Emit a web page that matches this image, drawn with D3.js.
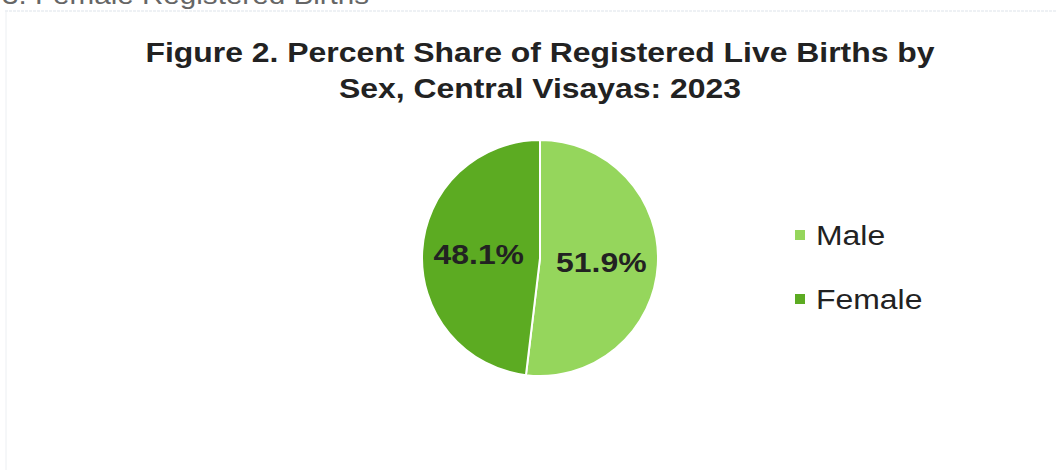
<!DOCTYPE html>
<html>
<head>
<meta charset="utf-8">
<script src="https://cdn.jsdelivr.net/npm/d3@7"></script>
<style>
  html, body { margin: 0; padding: 0; background: #ffffff; }
  svg { display: block; }
</style>
</head>
<body>
<svg id="chart" width="1057" height="470"></svg>
<script>
const categories = ["Male", "Female"];
const shares = [51.9, 48.1];
const labels = ["51.9%", "48.1%"];
const colors = ["#95d65c", "#5cab22"];
const titleLines = ["Figure 2. Percent Share of Registered Live Births by", "Sex, Central Visayas: 2023"];

const svg = d3.select("#chart");
const W = 1057, H = 470;
const font = "'Liberation Sans', Arial, sans-serif";
const SX = 1.14; // horizontal stretch of the text in the reference

// cut-off heading from page above
svg.append("text")
  .attr("transform", `translate(2,4) scale(${SX},1)`)
  .attr("font-family", font).attr("font-size", 26)
  .attr("fill", "#666")
  .text("3. Female Registered Births");

// faint frame
svg.append("line").attr("x1", 5).attr("x2", W).attr("y1", 11).attr("y2", 11)
  .attr("stroke", "#dde3ea").attr("stroke-width", 1).attr("stroke-dasharray", "3,1");
svg.append("line").attr("x1", 6).attr("x2", 6).attr("y1", 11).attr("y2", H)
  .attr("stroke", "#eceff2").attr("stroke-width", 1);

// title
svg.selectAll("text.title").data(titleLines).join("text")
  .attr("class", "title")
  .attr("transform", (d, i) => `translate(540,${62 + i * 36}) scale(${SX},1)`)
  .attr("text-anchor", "middle")
  .attr("font-family", font).attr("font-weight", "bold").attr("font-size", 28)
  .attr("fill", "#222")
  .text(d => d);

// pie
const cx = 540, cy = 258, r = 118;
const pie = d3.pie().sort(null).value(d => d)(shares);
const arc = d3.arc().innerRadius(0).outerRadius(r);
const labelArc = d3.arc().innerRadius(r * 0.52).outerRadius(r * 0.52);

const g = svg.append("g").attr("transform", `translate(${cx},${cy})`);
g.selectAll("path").data(pie).join("path")
  .attr("d", arc)
  .attr("fill", (d, i) => colors[i])
  .attr("stroke", "#ffffff").attr("stroke-width", 2);

g.selectAll("text").data(pie).join("text")
  .attr("transform", d => { const c = labelArc.centroid(d); return `translate(${c[0]},${c[1]}) scale(${SX},1)`; })
  .attr("text-anchor", "middle").attr("dy", "0.36em")
  .attr("font-family", font).attr("font-weight", "bold").attr("font-size", 28)
  .attr("fill", "#222")
  .text((d, i) => labels[i]);

// legend
const legend = svg.append("g").attr("transform", "translate(795,235)");
const item = legend.selectAll("g").data(categories).join("g")
  .attr("transform", (d, i) => `translate(0,${i * 64})`);
item.append("rect").attr("x", 0).attr("y", -5).attr("width", 10).attr("height", 10)
  .attr("fill", (d, i) => colors[i]);
item.append("text").attr("transform", `translate(21,10) scale(${SX},1)`)
  .attr("font-family", font).attr("font-size", 28).attr("fill", "#222")
  .text(d => d);
</script>
</body>
</html>
